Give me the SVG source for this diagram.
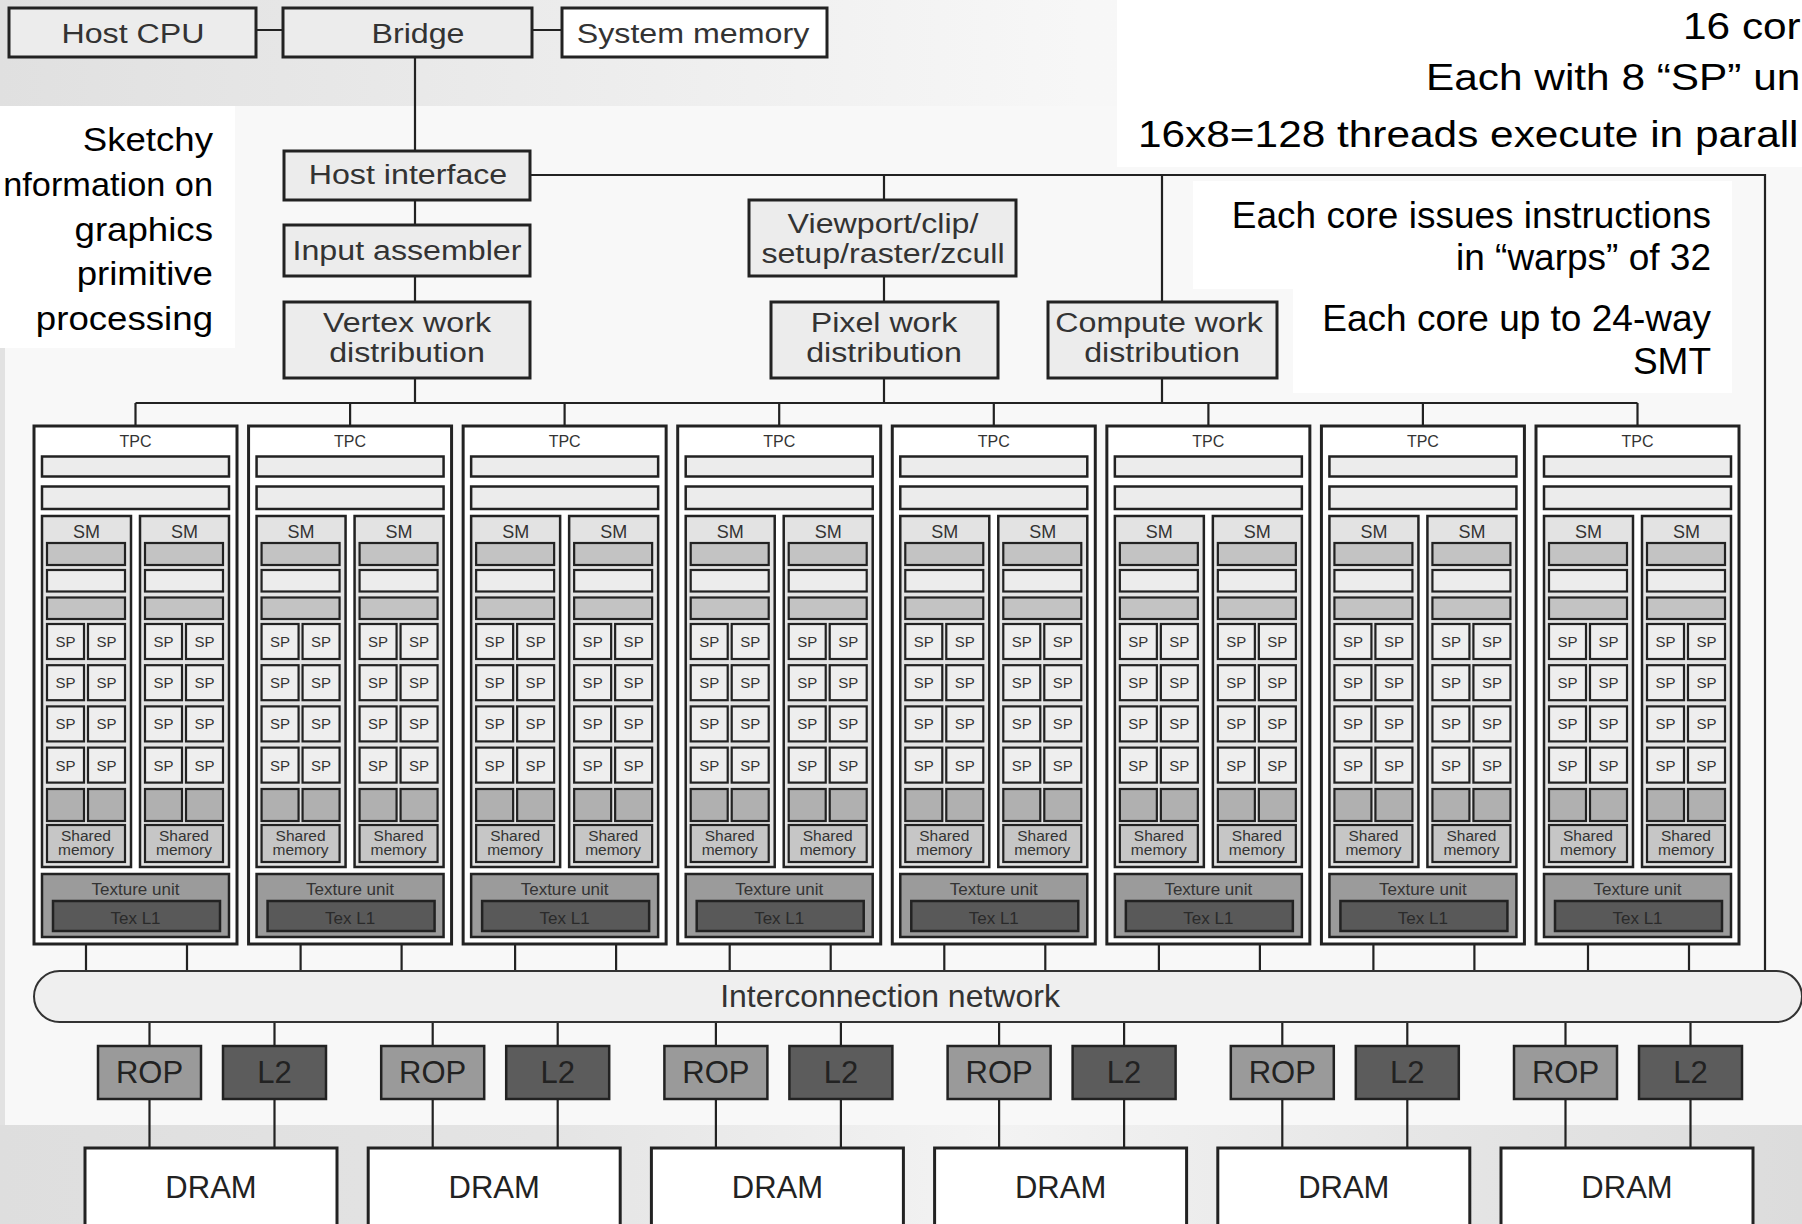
<svg xmlns="http://www.w3.org/2000/svg" xmlns:xlink="http://www.w3.org/1999/xlink" width="1802" height="1224" viewBox="0 0 1802 1224">
<style>
.box{fill:#ececec;stroke:#222;stroke-width:3}
.wbox{fill:#fff;stroke:#222;stroke-width:3}
.ln{stroke:#222;stroke-width:2.2;fill:none}
.lb{font-family:"Liberation Sans",Arial,sans-serif;font-size:28px;fill:#333;text-anchor:middle}
.big{font-family:"Liberation Sans",Arial,sans-serif;font-size:31px;fill:#222;text-anchor:middle}
.note{font-family:"Liberation Sans",Arial,sans-serif;font-size:37px;fill:#000}
.tpcO{fill:#fff;stroke:#222;stroke-width:3}
.bar{fill:#ececec;stroke:#222;stroke-width:2.5}
.sm{fill:#e3e3e3;stroke:#222;stroke-width:2.5}
.ib1{fill:#c3c3c3;stroke:#222;stroke-width:2.2}
.ib2{fill:#ececec;stroke:#222;stroke-width:2.2}
.sp{fill:#eeeeee;stroke:#222;stroke-width:2.2}
.gsq{fill:#b0b0b0;stroke:#222;stroke-width:2.2}
.shm{fill:#c6c6c6;stroke:#222;stroke-width:2.2}
.tex{fill:#9b9b9b;stroke:#222;stroke-width:2.5}
.texl1{fill:#595959;stroke:#222;stroke-width:2.5}
.t{font-family:"Liberation Sans",Arial,sans-serif;fill:#333;text-anchor:middle}
.rop{fill:#9a9a9a;stroke:#222;stroke-width:2.5}
.l2{fill:#5c5c5c;stroke:#222;stroke-width:2.5}
</style>
<defs>
<linearGradient id="gTop" x1="0" y1="0" x2="1" y2="0">
<stop offset="0" stop-color="#e0e0e0"/><stop offset="0.6" stop-color="#f7f7f7"/><stop offset="1" stop-color="#f8f8f8"/>
</linearGradient>
<linearGradient id="gBot" x1="0" y1="0" x2="1" y2="0">
<stop offset="0" stop-color="#dedede"/><stop offset="0.3" stop-color="#e4e4e4"/><stop offset="0.55" stop-color="#f3f3f3"/><stop offset="0.78" stop-color="#e6e6e6"/><stop offset="1" stop-color="#dcdcdc"/>
</linearGradient>
<g id="smT">
<rect class="sm" x="0" y="0" width="89" height="351"/>
<text class="t" x="44.5" y="22" font-size="18">SM</text>
<rect class="ib1" x="5" y="27" width="78" height="22"/>
<rect class="ib2" x="5" y="54" width="78" height="21.5"/>
<rect class="ib1" x="5" y="81.5" width="78" height="21.5"/>
<rect class="sp" x="5" y="108" width="37" height="35"/><rect class="sp" x="46" y="108" width="37" height="35"/>
<rect class="sp" x="5" y="149.2" width="37" height="35"/><rect class="sp" x="46" y="149.2" width="37" height="35"/>
<rect class="sp" x="5" y="190.4" width="37" height="35"/><rect class="sp" x="46" y="190.4" width="37" height="35"/>
<rect class="sp" x="5" y="231.6" width="37" height="35"/><rect class="sp" x="46" y="231.6" width="37" height="35"/>
<text class="t" font-size="15" x="23.5" y="131">SP</text><text class="t" font-size="15" x="64.5" y="131">SP</text>
<text class="t" font-size="15" x="23.5" y="172.2">SP</text><text class="t" font-size="15" x="64.5" y="172.2">SP</text>
<text class="t" font-size="15" x="23.5" y="213.4">SP</text><text class="t" font-size="15" x="64.5" y="213.4">SP</text>
<text class="t" font-size="15" x="23.5" y="254.6">SP</text><text class="t" font-size="15" x="64.5" y="254.6">SP</text>
<rect class="gsq" x="5" y="273" width="37" height="32"/><rect class="gsq" x="46" y="273" width="37" height="32"/>
<rect class="shm" x="5" y="309" width="78" height="37"/>
<text class="t" font-size="15.5" x="44" y="325">Shared</text>
<text class="t" font-size="15.5" x="44" y="339">memory</text>
</g>
<g id="tpcT">
<rect class="tpcO" x="0" y="0" width="203" height="518"/>
<text class="t" x="101.5" y="21" font-size="16">TPC</text>
<rect class="bar" x="8" y="30.5" width="187" height="20"/>
<rect class="bar" x="8" y="60.5" width="187" height="22.5"/>
<use xlink:href="#smT" href="#smT" transform="translate(8,90)"/>
<use xlink:href="#smT" href="#smT" transform="translate(106,90)"/>
<rect class="tex" x="8" y="448" width="187" height="63"/>
<text class="t" x="101.5" y="469" font-size="17">Texture unit</text>
<rect class="texl1" x="19" y="475" width="167" height="30"/>
<text class="t" x="101.5" y="498" font-size="17" style="fill:#2a2a2a">Tex L1</text>
</g>
</defs>

<g id="background">
<rect x="0" y="0" width="1802" height="1224" fill="#e2e2e2"/>
<rect x="0" y="0" width="1802" height="106" fill="url(#gTop)"/>
<rect x="5" y="106" width="1797" height="1019" fill="#f8f8f8"/>
<rect x="0" y="1125" width="1802" height="99" fill="url(#gBot)"/>
<rect x="0" y="106" width="235" height="242" fill="#fff"/>
<rect x="1117" y="0" width="685" height="167" fill="#fff"/>
<rect x="1193" y="181" width="539" height="108" fill="#fff"/>
<rect x="1293" y="289" width="439" height="104" fill="#fff"/>
</g>

<g id="notes">
<text class="note" transform="translate(1683,39) scale(1.145,1)">16 cor</text>
<text class="note" transform="translate(1426,90) scale(1.145,1)">Each with 8 “SP” un</text>
<text class="note" transform="translate(1138,147) scale(1.145,1)">16x8=128 threads execute in parall</text>
<text class="note" style="font-size:33px;text-anchor:end" transform="translate(213,151) scale(1.11,1)">Sketchy</text>
<text class="note" style="font-size:33px;text-anchor:end" transform="translate(213,196) scale(1.04,1)">nformation on</text>
<text class="note" style="font-size:33px;text-anchor:end" transform="translate(213,241) scale(1.11,1)">graphics</text>
<text class="note" style="font-size:33px;text-anchor:end" transform="translate(213,285) scale(1.11,1)">primitive</text>
<text class="note" style="font-size:33px;text-anchor:end" transform="translate(213,330) scale(1.11,1)">processing</text>
<text class="note" style="text-anchor:end" x="1711" y="228">Each core issues instructions</text>
<text class="note" style="text-anchor:end" x="1711" y="270">in “warps” of 32</text>
<text class="note" style="text-anchor:end" x="1711" y="331">Each core up to 24-way</text>
<text class="note" style="text-anchor:end" x="1711" y="374">SMT</text>
</g>

<g id="connectors">
<path class="ln" d="M256,30H283M532,30H562M415,57V151M415,200V225M415,276V302M415,378V403"/>
<path class="ln" d="M530,175H1765V971"/>
<path class="ln" d="M884,175V200M884,276V302M884,378V403M1162,175V302M1162,378V403"/>
<path class="ln" d="M135.5,403H1637.5"/>
<path class="ln" d="M135.5,403V426M350.1,403V426M564.6,403V426M779.2,403V426M993.8,403V426M1208.4,403V426M1422.9,403V426M1637.5,403V426"/>
<path class="ln" d="M86,944V971M187,944V971M300.6,944V971M401.6,944V971M515.1,944V971M616.1,944V971M729.7,944V971M830.7,944V971M944.3,944V971M1045.3,944V971M1158.9,944V971M1259.9,944V971M1373.4,944V971M1474.4,944V971M1588,944V971M1689,944V971"/>
<path class="ln" d="M149.5,1022V1046M274.5,1022V1046M432.7,1022V1046M557.7,1022V1046M715.9,1022V1046M840.9,1022V1046M999.1,1022V1046M1124.1,1022V1046M1282.3,1022V1046M1407.3,1022V1046M1565.5,1022V1046M1690.5,1022V1046"/>
<path class="ln" d="M149.5,1099V1148M274.5,1099V1148M432.7,1099V1148M557.7,1099V1148M715.9,1099V1148M840.9,1099V1148M999.1,1099V1148M1124.1,1099V1148M1282.3,1099V1148M1407.3,1099V1148M1565.5,1099V1148M1690.5,1099V1148"/>
</g>

<g id="host-cpu"><rect class="box" x="9" y="8" width="247" height="49"/><text class="lb" transform="translate(133,43) scale(1.15,1)">Host CPU</text></g>
<g id="bridge"><rect class="box" x="283" y="8" width="249" height="49"/><text class="lb" transform="translate(418,43) scale(1.15,1)">Bridge</text></g>
<g id="system-memory"><rect class="wbox" x="562" y="8" width="265" height="49"/><text class="lb" transform="translate(693,43) scale(1.15,1)">System memory</text></g>
<g id="host-interface"><rect class="box" x="284" y="151" width="246" height="49"/><text class="lb" transform="translate(408,184) scale(1.15,1)">Host interface</text></g>
<g id="input-assembler"><rect class="box" x="284" y="225" width="246" height="51"/><text class="lb" transform="translate(407,260) scale(1.15,1)">Input assembler</text></g>
<g id="vertex-work"><rect class="box" x="284" y="302" width="246" height="76"/><text class="lb" transform="translate(407,332) scale(1.15,1)">Vertex work</text><text class="lb" transform="translate(407,362) scale(1.15,1)">distribution</text></g>
<g id="viewport"><rect class="box" x="749" y="200" width="267" height="76"/><text class="lb" transform="translate(883,233) scale(1.15,1)">Viewport/clip/</text><text class="lb" transform="translate(883,263) scale(1.15,1)">setup/raster/zcull</text></g>
<g id="pixel-work"><rect class="box" x="771" y="302" width="227" height="76"/><text class="lb" transform="translate(884,332) scale(1.15,1)">Pixel work</text><text class="lb" transform="translate(884,362) scale(1.15,1)">distribution</text></g>
<g id="compute-work"><rect class="box" x="1048" y="302" width="229" height="76"/><text class="lb" transform="translate(1159,332) scale(1.15,1)">Compute work</text><text class="lb" transform="translate(1162,362) scale(1.15,1)">distribution</text></g>

<g id="tpc1"><use xlink:href="#tpcT" href="#tpcT" transform="translate(34,426)"/></g>
<g id="tpc2"><use xlink:href="#tpcT" href="#tpcT" transform="translate(248.57,426)"/></g>
<g id="tpc3"><use xlink:href="#tpcT" href="#tpcT" transform="translate(463.14,426)"/></g>
<g id="tpc4"><use xlink:href="#tpcT" href="#tpcT" transform="translate(677.71,426)"/></g>
<g id="tpc5"><use xlink:href="#tpcT" href="#tpcT" transform="translate(892.28,426)"/></g>
<g id="tpc6"><use xlink:href="#tpcT" href="#tpcT" transform="translate(1106.85,426)"/></g>
<g id="tpc7"><use xlink:href="#tpcT" href="#tpcT" transform="translate(1321.42,426)"/></g>
<g id="tpc8"><use xlink:href="#tpcT" href="#tpcT" transform="translate(1536,426)"/></g>

<g id="interconnect"><rect x="34" y="971" width="1768" height="51" rx="25.5" fill="#efefef" stroke="#333" stroke-width="2"/><text class="t" x="890" y="1007" font-size="32">Interconnection network</text></g>

<g id="rop1"><rect class="rop" x="98" y="1046" width="103" height="53"/><text class="big" x="149.5" y="1083">ROP</text></g>
<g id="l2-1"><rect class="l2" x="223" y="1046" width="103" height="53"/><text class="big" x="274.5" y="1083">L2</text></g>
<g id="rop2"><rect class="rop" x="381.2" y="1046" width="103" height="53"/><text class="big" x="432.7" y="1083">ROP</text></g>
<g id="l2-2"><rect class="l2" x="506.2" y="1046" width="103" height="53"/><text class="big" x="557.7" y="1083">L2</text></g>
<g id="rop3"><rect class="rop" x="664.4" y="1046" width="103" height="53"/><text class="big" x="715.9" y="1083">ROP</text></g>
<g id="l2-3"><rect class="l2" x="789.4" y="1046" width="103" height="53"/><text class="big" x="840.9" y="1083">L2</text></g>
<g id="rop4"><rect class="rop" x="947.6" y="1046" width="103" height="53"/><text class="big" x="999.1" y="1083">ROP</text></g>
<g id="l2-4"><rect class="l2" x="1072.6" y="1046" width="103" height="53"/><text class="big" x="1124.1" y="1083">L2</text></g>
<g id="rop5"><rect class="rop" x="1230.8" y="1046" width="103" height="53"/><text class="big" x="1282.3" y="1083">ROP</text></g>
<g id="l2-5"><rect class="l2" x="1355.8" y="1046" width="103" height="53"/><text class="big" x="1407.3" y="1083">L2</text></g>
<g id="rop6"><rect class="rop" x="1514" y="1046" width="103" height="53"/><text class="big" x="1565.5" y="1083">ROP</text></g>
<g id="l2-6"><rect class="l2" x="1639" y="1046" width="103" height="53"/><text class="big" x="1690.5" y="1083">L2</text></g>

<g id="dram1"><rect class="wbox" x="85" y="1148" width="252" height="90"/><text class="big" x="211" y="1198">DRAM</text></g>
<g id="dram2"><rect class="wbox" x="368.2" y="1148" width="252" height="90"/><text class="big" x="494.2" y="1198">DRAM</text></g>
<g id="dram3"><rect class="wbox" x="651.4" y="1148" width="252" height="90"/><text class="big" x="777.4" y="1198">DRAM</text></g>
<g id="dram4"><rect class="wbox" x="934.6" y="1148" width="252" height="90"/><text class="big" x="1060.6" y="1198">DRAM</text></g>
<g id="dram5"><rect class="wbox" x="1217.8" y="1148" width="252" height="90"/><text class="big" x="1343.8" y="1198">DRAM</text></g>
<g id="dram6"><rect class="wbox" x="1501" y="1148" width="252" height="90"/><text class="big" x="1627" y="1198">DRAM</text></g>
</svg>
